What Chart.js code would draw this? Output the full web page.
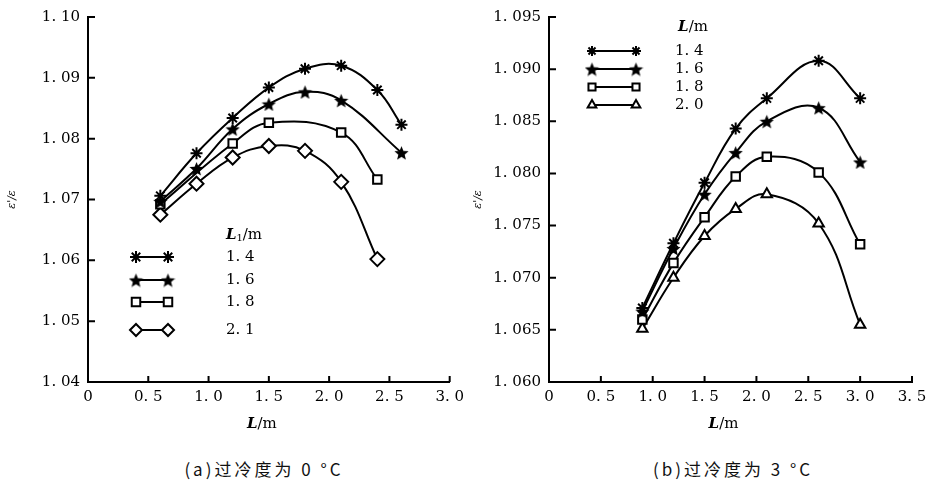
<!DOCTYPE html>
<html>
<head>
<meta charset="utf-8">
<script src="https://cdn.jsdelivr.net/npm/chart.js@4.4.1/dist/chart.umd.min.js"></script>
<style>
    body { margin: 0; background: #fff; width: 937px; height: 483px; overflow: hidden; position: relative; }
    canvas { position: absolute; top: 0; }
    #chartA { left: 0; }
    #chartB { left: 470px; }
    .cap { position: absolute; top: 456px; font: 17px "Noto Sans CJK SC", sans-serif; letter-spacing: 3px; color: #111; transform: translateX(-50%); white-space: nowrap; }
</style>
</head>
<body>
<canvas id="chartA" width="470" height="440"></canvas>
<canvas id="chartB" width="467" height="440"></canvas>
<div class="cap" style="left:264px">(a)过冷度为 0 °C</div>
<div class="cap" style="left:733px">(b)过冷度为 3 °C</div>
<script>
// 图(a)：过冷度 0 °C，曲线按 L1/m 区分
const labelsA = ['1. 4', '1. 6', '1. 8', '2. 1'];
const xA14 = [0.6, 0.9, 1.2, 1.5, 1.8, 2.1, 2.4, 2.6];
const yA14 = [1.0706, 1.0776, 1.0834, 1.0884, 1.0915, 1.0920, 1.0880, 1.0823];
const xA16 = [0.6, 0.9, 1.2, 1.5, 1.8, 2.1, 2.6];
const yA16 = [1.0697, 1.0751, 1.0816, 1.0857, 1.0877, 1.0863, 1.0777];
const xA18 = [0.6, 1.2, 1.5, 2.1, 2.4];
const yA18 = [1.0692, 1.0792, 1.0826, 1.0810, 1.0733];
const xA21 = [0.6, 0.9, 1.2, 1.5, 1.8, 2.1, 2.4];
const yA21 = [1.0675, 1.0726, 1.0769, 1.0788, 1.0780, 1.0729, 1.0602];

// 图(b)：过冷度 3 °C，曲线按 L/m 区分
const labelsB = ['1. 4', '1. 6', '1. 8', '2. 0'];
const xB = [0.9, 1.2, 1.5, 1.8, 2.1, 2.6, 3.0];
const yB14 = [1.0671, 1.0733, 1.0791, 1.0843, 1.0872, 1.0908, 1.0872];
const yB16 = [1.0668, 1.0728, 1.0780, 1.0820, 1.0850, 1.0863, 1.0811];
const yB18 = [1.0660, 1.0714, 1.0758, 1.0797, 1.0816, 1.0801, 1.0732];
const yB20 = [1.0651, 1.0700, 1.0740, 1.0766, 1.0780, 1.0752, 1.0655];

const SERIF = '"DejaVu Serif", serif';

// 实心五角星
function makeStar(size) {
    const c = document.createElement('canvas');
    c.width = c.height = size;
    const g = c.getContext('2d');
    g.fillStyle = '#000';
    g.beginPath();
    for (let i = 0; i < 10; i++) {
        const r = i % 2 ? size * 0.22 : size * 0.5;
        const a = -Math.PI / 2 + i * Math.PI / 5;
        g.lineTo(size / 2 + r * Math.cos(a), size / 2 + r * Math.sin(a) + size * 0.06);
    }
    g.closePath();
    g.fill();
    return c;
}
const starFilled = makeStar(15);
const STYLES = ['star', starFilled, 'rect', 'rectRot'];
const STYLES_B = ['star', starFilled, 'rect', 'triangle'];

const pts = (xs, ys) => xs.map((x, i) => ({ x: x, y: ys[i] }));

function makeDataset(label, data, style) {
    return {
        label: label,
        data: data,
        borderColor: '#000',
        borderWidth: 2,
        tension: 0.4,
        pointStyle: style,
        pointRadius: style === 'rectRot' ? 7 : 6,
        pointBorderWidth: 2,
        pointBorderColor: '#000',
        pointBackgroundColor: '#fff'
    };
}

// 混合字体文字（斜体 L 加正体 /m）
function drawParts(ctx, parts, cx, cy) {
    let w = 0;
    parts.forEach(p => { ctx.font = p.font; w += ctx.measureText(p.text).width; });
    let x = cx - w / 2;
    ctx.textBaseline = 'middle';
    ctx.textAlign = 'left';
    parts.forEach(p => {
        ctx.font = p.font;
        ctx.fillText(p.text, x, cy + (p.dy || 0));
        x += ctx.measureText(p.text).width;
    });
}

// 向内的刻度、坐标轴名称和图例
const framePlugin = {
    id: 'frame',
    afterDraw(chart, args, opts) {
        const ctx = chart.ctx;
        const area = chart.chartArea;
        const xs = chart.scales.x, ys = chart.scales.y;
        ctx.save();
        ctx.strokeStyle = '#000';
        ctx.fillStyle = '#000';
        ctx.lineWidth = 2;
        ctx.beginPath();
        ys.ticks.forEach(t => {
            const y = ys.getPixelForValue(t.value);
            ctx.moveTo(area.left, y);
            ctx.lineTo(area.left + 7, y);
        });
        xs.ticks.forEach(t => {
            const x = xs.getPixelForValue(t.value);
            ctx.moveTo(x, area.bottom);
            ctx.lineTo(x, area.bottom - 6);
        });
        ctx.stroke();

        // 横轴名称
        drawParts(ctx, [
            { text: 'L', font: 'italic bold 15px ' + SERIF },
            { text: '/m', font: '15px ' + SERIF }
        ], (area.left + area.right) / 2 - 7, 424);

        // 图例
        const lg = opts.legend;
        drawParts(ctx, lg.title, lg.labelX + 18, lg.titleY);
        chart.data.datasets.forEach((ds, i) => {
            const y = lg.rows[i];
            ctx.lineWidth = 2;
            ctx.beginPath();
            ctx.moveTo(lg.x1, y);
            ctx.lineTo(lg.x2, y);
            ctx.stroke();
            [lg.x1, lg.x2].forEach(px => {
                ctx.fillStyle = '#fff';
                ctx.strokeStyle = '#000';
                Chart.helpers.drawPoint(ctx, {
                    pointStyle: ds.pointStyle, rotation: 0,
                    radius: lg.radius, borderWidth: 2
                }, px, y);
            });
            ctx.fillStyle = '#000';
            ctx.font = '15px ' + SERIF;
            ctx.textAlign = 'left';
            ctx.textBaseline = 'middle';
            ctx.fillText(ds.label, lg.labelX, y);
        });
        ctx.restore();
    }
};

function makeChart(id, datasets, cfg) {
    return new Chart(document.getElementById(id), {
        type: 'line',
        data: { datasets: datasets },
        plugins: [framePlugin],
        options: {
            responsive: false,
            animation: false,
            devicePixelRatio: 1,
            layout: { padding: cfg.padding },
            plugins: {
                legend: { display: false },
                tooltip: { enabled: false },
                frame: { legend: cfg.legend }
            },
            scales: {
                x: {
                    type: 'linear',
                    min: 0,
                    max: cfg.xMax,
                    grid: { display: false, drawTicks: false },
                    border: { display: true, color: '#000', width: 2 },
                    ticks: {
                        stepSize: 0.5,
                        padding: 6,
                        color: '#000',
                        font: { family: SERIF, size: 15 },
                        callback: v => v === 0 ? '0' : v.toFixed(1).replace('.', '. ')
                    },
                    afterFit: s => { s.height = 58; }
                },
                y: {
                    min: cfg.yMin,
                    max: cfg.yMax,
                    grid: { display: false, drawTicks: false },
                    border: { display: true, color: '#000', width: 2 },
                    title: {
                        display: true,
                        text: "ε'/ε",
                        color: '#000',
                        padding: 0,
                        font: { family: SERIF, size: 11, style: 'italic' }
                    },
                    ticks: {
                        stepSize: cfg.yStep,
                        padding: 8,
                        color: '#000',
                        font: { family: SERIF, size: 15 },
                        callback: v => v.toFixed(cfg.yDigits).replace('.', '. ')
                    },
                    afterFit: s => { s.width = cfg.yWidth; }
                }
            }
        }
    });
}

makeChart('chartA', [
    makeDataset(labelsA[0], pts(xA14, yA14), STYLES[0]),
    makeDataset(labelsA[1], pts(xA16, yA16), STYLES[1]),
    makeDataset(labelsA[2], pts(xA18, yA18), STYLES[2]),
    makeDataset(labelsA[3], pts(xA21, yA21), STYLES[3])
], {
    padding: { left: 6, right: 20, top: 16, bottom: 0 },
    yWidth: 82, xMax: 3, yMin: 1.04, yMax: 1.10, yStep: 0.01, yDigits: 2,
    legend: {
        x1: 136, x2: 168, labelX: 226, radius: 6,
        titleY: 235, rows: [257, 280, 302, 330],
        title: [
            { text: 'L', font: 'italic bold 15px ' + SERIF },
            { text: '1', font: '10px ' + SERIF, dy: 3 },
            { text: '/m', font: '15px ' + SERIF }
        ]
    }
});

makeChart('chartB', [
    makeDataset(labelsB[0], pts(xB, yB14), STYLES_B[0]),
    makeDataset(labelsB[1], pts(xB, yB16), STYLES_B[1]),
    makeDataset(labelsB[2], pts(xB, yB18), STYLES_B[2]),
    makeDataset(labelsB[3], pts(xB, yB20), STYLES_B[3])
], {
    padding: { left: 2, right: 25, top: 16, bottom: 0 },
    yWidth: 77, xMax: 3.5, yMin: 1.06, yMax: 1.095, yStep: 0.005, yDigits: 3,
    legend: {
        x1: 122, x2: 166, labelX: 205, radius: 5,
        titleY: 27, rows: [51, 69, 87, 105],
        title: [
            { text: 'L', font: 'italic bold 15px ' + SERIF },
            { text: '/m', font: '15px ' + SERIF }
        ]
    }
});
</script>
</body>
</html>
